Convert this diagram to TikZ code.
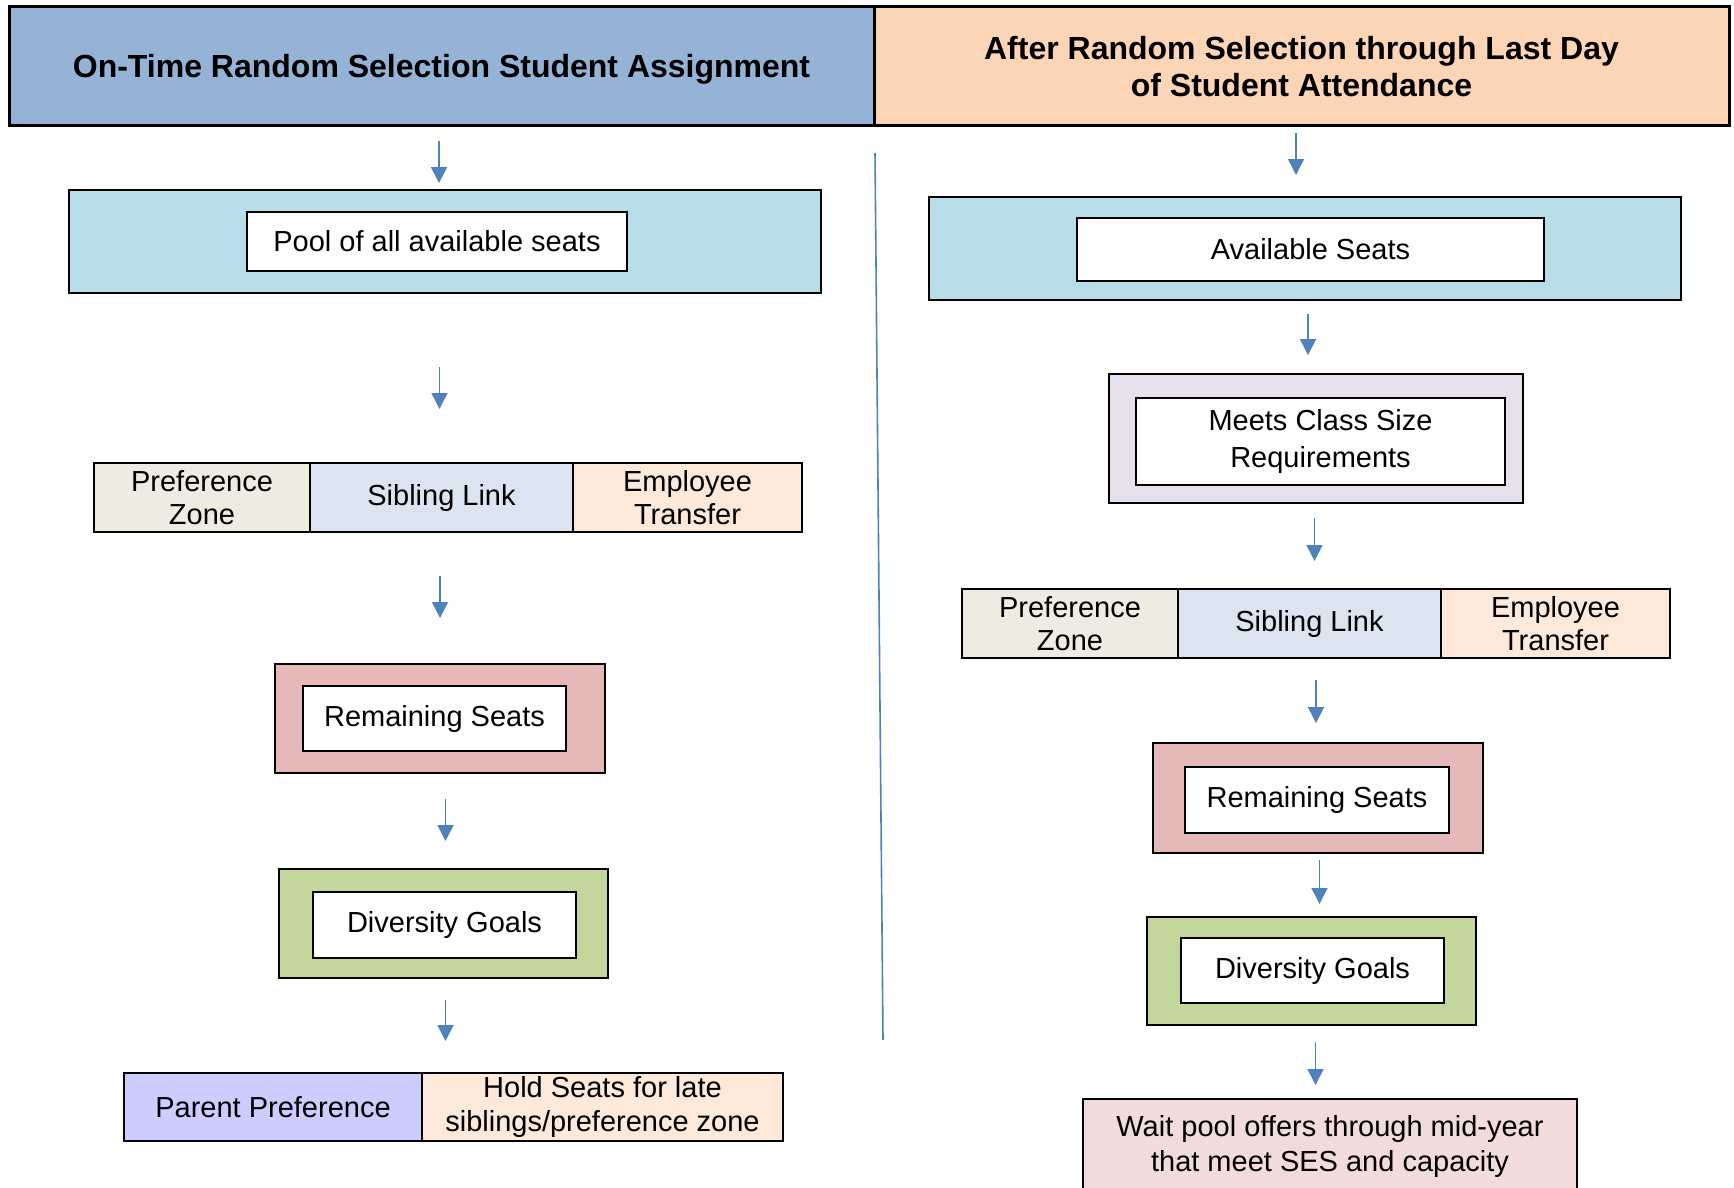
\documentclass[tikz,border=0pt]{standalone}
\usepackage{fontspec}
\setmainfont{Liberation Sans}
\usetikzlibrary{positioning}
\usetikzlibrary{arrows.meta}

\definecolor{headblue}{HTML}{95B3D7}
\definecolor{headpeach}{HTML}{FBD5B5}
\definecolor{poolblue}{HTML}{B7DDE8}
\definecolor{zonegrey}{HTML}{EEECE1}
\definecolor{siblingblue}{HTML}{DBE5F1}
\definecolor{employeepeach}{HTML}{FDE9D9}
\definecolor{remainred}{HTML}{E6B9B8}
\definecolor{diversitygreen}{HTML}{C3D69B}
\definecolor{meetslilac}{HTML}{E5E0EC}
\definecolor{parentlilac}{HTML}{CCCCFF}
\definecolor{waitpink}{HTML}{F2DCDB}
\definecolor{arrowblue}{HTML}{4F81BD}

\begin{document}
\begin{tikzpicture}[x=0.5pt,y=-0.5pt,node distance=0pt,
  every node/.style={font=\fontsize{14.5}{16.6}\selectfont,align=center,inner sep=0pt},
  head node/.style={draw,line width=1.5pt,outer sep=0pt,font=\fontsize{16}{18.5}\selectfont\bfseries},
  outer node/.style={draw,line width=1pt},
  inner node/.style={draw,fill=white,line width=1pt},
  cell node/.style={draw,line width=1pt,outer sep=0pt,minimum height=34.5pt},
  flow/.style={-{Triangle[width=8pt,length=8pt]},draw=arrowblue,fill=arrowblue,line width=0.8pt}]

	\useasboundingbox (0,0) rectangle (1734,1188);

	% headers
	\node[head node,fill=headblue,minimum width=432.5pt,minimum height=59.5pt,text depth=1pt] (headL) at (441.5,66.5) {On-Time Random Selection Student Assignment};
	\node[head node,fill=headpeach,minimum width=427.5pt,minimum height=59.5pt,right=0pt of headL] (headR) {After Random Selection through Last Day\\of Student Attendance};

	\draw[arrowblue,line width=0.8pt] (875,153) -- (883,1040);

	% left column
	\node[outer node,fill=poolblue,minimum width=376pt,minimum height=51.5pt] (poolL) at (445,241.5) {};
	\node[inner node,minimum width=190pt,minimum height=29.5pt] (poolLin) at (437,241.5) {Pool of all available seats};

	\node[cell node,fill=zonegrey,minimum width=108pt] (zoneL) at (202,497.5) {Preference\\Zone};
	\node[cell node,fill=siblingblue,minimum width=131.5pt,right=0pt of zoneL] (siblingL) {Sibling Link};
	\node[cell node,fill=employeepeach,minimum width=114.5pt,right=0pt of siblingL] (employeeL) {Employee\\Transfer};

	\node[outer node,fill=remainred,minimum width=165pt,minimum height=54.5pt] (remainL) at (440,718.5) {};
	\node[inner node,minimum width=131.5pt,minimum height=32.5pt] (remainLin) at (434.5,718.5) {Remaining Seats};

	\node[outer node,fill=diversitygreen,minimum width=164.5pt,minimum height=54.5pt] (divL) at (443.5,923.5) {};
	\node[inner node,minimum width=131.5pt,minimum height=33pt] (divLin) at (444.5,925) {Diversity Goals};

	\node[cell node,fill=parentlilac,minimum width=149pt,minimum height=34pt] (parentL) at (273,1107) {Parent Preference};
	\node[cell node,fill=employeepeach,minimum width=180.5pt,minimum height=34pt,right=0pt of parentL] (holdL) {Hold Seats for late\\siblings/preference zone};

	% right column
	\node[outer node,fill=poolblue,minimum width=376pt,minimum height=51.5pt] (availR) at (1305,248.5) {};
	\node[inner node,minimum width=233.5pt,minimum height=31.5pt] (availRin) at (1310.5,249.5) {Available Seats};

	\node[outer node,fill=meetslilac,minimum width=207pt,minimum height=64.5pt] (meetsR) at (1316,438.5) {};
	\node[inner node,minimum width=184.5pt,minimum height=43.5pt,font=\fontsize{14.5}{18.2}\selectfont] (meetsRin) at (1320.5,441.5) {Meets Class Size\\Requirements};

	\node[cell node,fill=zonegrey,minimum width=108pt] (zoneR) at (1070,623.5) {Preference\\Zone};
	\node[cell node,fill=siblingblue,minimum width=131.5pt,right=0pt of zoneR] (siblingR) {Sibling Link};
	\node[cell node,fill=employeepeach,minimum width=114.5pt,right=0pt of siblingR] (employeeR) {Employee\\Transfer};

	\node[outer node,fill=remainred,minimum width=165pt,minimum height=55pt] (remainR) at (1318,798) {};
	\node[inner node,minimum width=132pt,minimum height=33pt] (remainRin) at (1317,800) {Remaining Seats};

	\node[outer node,fill=diversitygreen,minimum width=164.5pt,minimum height=54pt] (divR) at (1311.5,971) {};
	\node[inner node,minimum width=131.5pt,minimum height=32.5pt] (divRin) at (1312.5,970.5) {Diversity Goals};

	\node[outer node,fill=waitpink,anchor=north,minimum width=247pt,inner ysep=8pt,text depth=30pt,font=\fontsize{14.5}{17.6}\selectfont] (waitR) at (1330,1098) {Wait pool offers through mid-year\\that meet SES and capacity};

	% arrows
	\draw[flow] ([xshift=-3pt,yshift=24pt]poolL.north) -- ([xshift=-3pt,yshift=3pt]poolL.north);
	\draw[flow] ([xshift=-1pt,yshift=48pt]siblingL.north) -- ([xshift=-1pt,yshift=27pt]siblingL.north);
	\draw[flow] ([yshift=43.5pt]remainL.north) -- ([yshift=22.5pt]remainL.north);
	\draw[flow] ([xshift=1pt,yshift=34.5pt]divL.north) -- ([xshift=1pt,yshift=13.5pt]divL.north);
	\draw[flow] ([xshift=1pt,yshift=-10.5pt]divL.south) -- ([xshift=1pt,yshift=-31pt]divL.south);

	\draw[flow] ([xshift=-4.5pt,yshift=31.5pt]availR.north) -- ([xshift=-4.5pt,yshift=10.5pt]availR.north);
	\draw[flow] ([xshift=-4pt,yshift=29.5pt]meetsR.north) -- ([xshift=-4pt,yshift=9pt]meetsR.north);
	\draw[flow] ([xshift=2.5pt,yshift=35.5pt]siblingR.north) -- ([xshift=2.5pt,yshift=14pt]siblingR.north);
	\draw[flow] ([xshift=-1pt,yshift=31pt]remainR.north) -- ([xshift=-1pt,yshift=9.5pt]remainR.north);
	\draw[flow] ([xshift=4pt,yshift=28pt]divR.north) -- ([xshift=4pt,yshift=6pt]divR.north);
	\draw[flow] ([xshift=2pt,yshift=-8pt]divR.south) -- ([xshift=2pt,yshift=-29.5pt]divR.south);
\end{tikzpicture}
\end{document}
